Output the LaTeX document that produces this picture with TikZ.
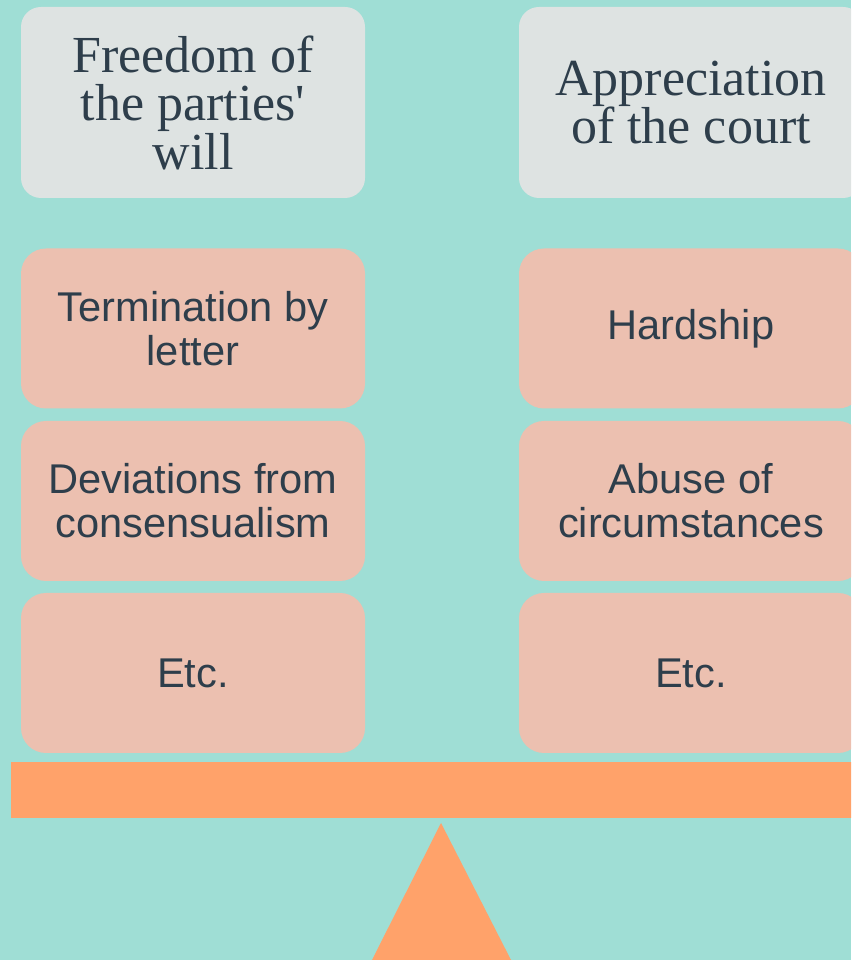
\documentclass[tikz,border=0pt]{standalone}
\usepackage{fontspec}
\setmainfont{Liberation Serif}
\newfontfamily\boxsans{Liberation Sans}
\definecolor{bgteal}{HTML}{9FDED5}
\definecolor{headgrey}{HTML}{DEE3E2}
\definecolor{itemrose}{HTML}{ECC0B0}
\definecolor{beamorange}{HTML}{FFA26A}
\definecolor{inkblue}{HTML}{2E3E4B}
\tikzset{
	headbox/.style={fill=headgrey, rounded corners=20pt, minimum width=344pt, minimum height=191pt, align=center, text=inkblue, font=\fontsize{52}{48.5}\selectfont, inner sep=0pt},
	itembox/.style={fill=itemrose, rounded corners=25pt, minimum width=344pt, minimum height=160pt, align=center, text=inkblue, font=\boxsans\fontsize{41.6}{44}\selectfont, inner sep=0pt}
}
\begin{document}
\begin{tikzpicture}[x=1pt,y=1pt]
			\useasboundingbox (0,0) rectangle (851,960);
			\fill [bgteal] (0,0) rectangle (851,960);
			\begin{scope}
			\clip (0,0) rectangle (851,960);
			\node [headbox] (freedom) at (193,857.5) {Freedom of\\the parties\textquotesingle\\will};
			\node [headbox] (appr) at (691,857.5) {Appreciation\\of the court};
			\node [itembox] (term) at (193,631.5) {Termination by\\letter};
			\node [itembox] (hard) at (691,631.5) {Hardship};
			\node [itembox] (devi) at (193,459) {Deviations from\\consensualism};
			\node [itembox] (abuse) at (691,459) {Abuse of\\circumstances};
			\node [itembox] (etcl) at (193,287) {Etc.};
			\node [itembox] (etcr) at (691,287) {Etc.};
			\fill [beamorange] (11,142) rectangle (860,198);
			\fill [beamorange] (441,137) -- (511,0) -- (372,0) -- cycle;
			\end{scope}
		\end{tikzpicture}
\end{document}
